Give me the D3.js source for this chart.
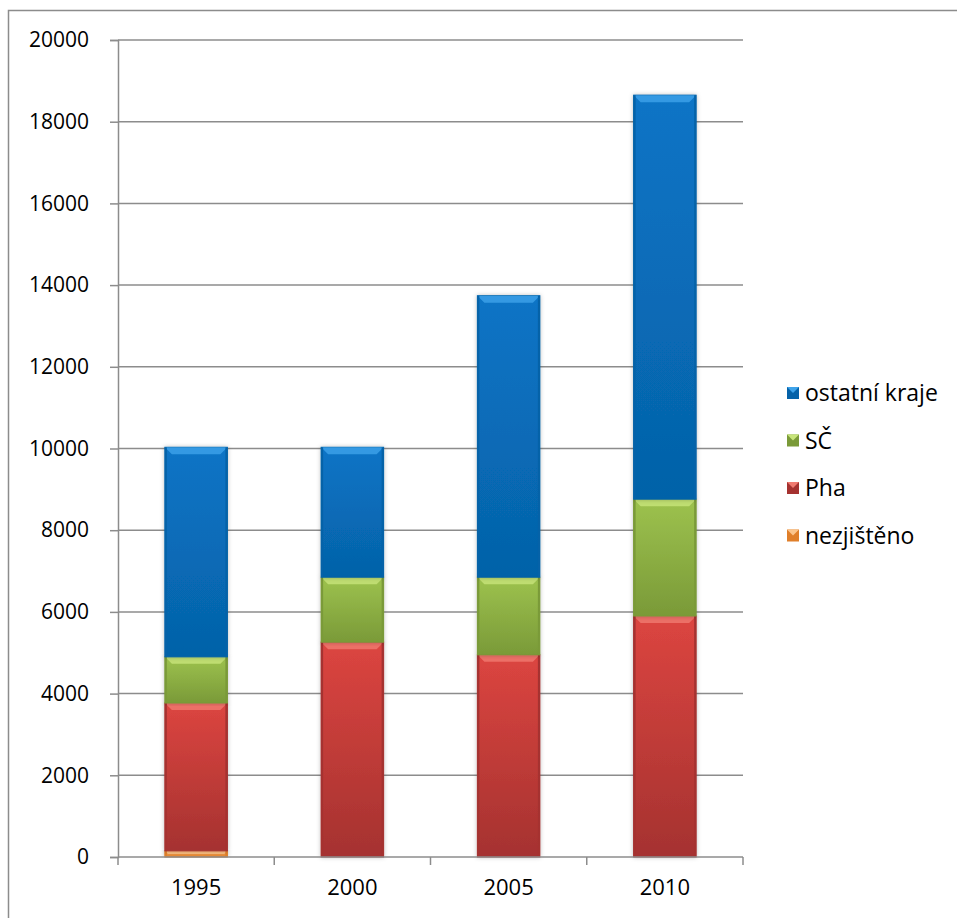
<!DOCTYPE html>
<html>
<head>
<meta charset="utf-8">
<script src="https://cdn.jsdelivr.net/npm/d3@7"></script>
<style>
  body { margin: 0; background: #fff; }
  text { font-family: "Open Sans", Lato, sans-serif; fill: #000; }
</style>
</head>
<body>
<div id="chart"></div>
<script>
var years = ["1995", "2000", "2005", "2010"];
var seriesNames = ["nezjištěno", "Pha", "SČ", "ostatní kraje"];
var nezjisteno = [150, 0, 0, 0];
var pha = [3620, 5260, 4950, 5900];
var sc = [1130, 1590, 1900, 2860];
var ostatni = [5130, 3180, 6890, 9890];
var yTicks = [0, 2000, 4000, 6000, 8000, 10000, 12000, 14000, 16000, 18000, 20000];

// colours: [top, bottom, bevel highlight]
var colors = {
    "nezjištěno": ["#f9a85a", "#e07f2a", "#fcc58c"],
    "Pha": ["#dc4540", "#a53230", "#f07a70"],
    "SČ": ["#9dc24e", "#7a9a38", "#c8e57a"],
    "ostatní kraje": ["#0a74c6", "#0562a8", "#3fa3ea"]
};

var W = 957, H = 918;
var margin = {top: 40, right: 214, bottom: 61, left: 118};
var width = W - margin.left - margin.right;
var height = H - margin.top - margin.bottom;

var rows = years.map(function(y, i) {
    return {year: y, "nezjištěno": nezjisteno[i], "Pha": pha[i], "SČ": sc[i], "ostatní kraje": ostatni[i]};
});
var stacked = d3.stack().keys(seriesNames)(rows);

var svg = d3.select("#chart").append("svg")
    .attr("width", W)
    .attr("height", H);

// outer chart frame
svg.append("rect")
    .attr("x", 8.5).attr("y", 10.5)
    .attr("width", 1200).attr("height", 1200)
    .attr("fill", "none")
    .attr("stroke", "#8c8c8c")
    .attr("stroke-width", 1.5);

var defs = svg.append("defs");
seriesNames.forEach(function(k, i) {
    var g = defs.append("linearGradient")
        .attr("id", "grad" + i)
        .attr("x1", 0).attr("y1", 0).attr("x2", 0).attr("y2", 1);
    g.append("stop").attr("offset", "0%").attr("stop-color", colors[k][0]);
    g.append("stop").attr("offset", "100%").attr("stop-color", colors[k][1]);
});
var shadow = defs.append("filter").attr("id", "shadow")
    .attr("x", "-20%").attr("y", "-5%").attr("width", "140%").attr("height", "110%");
shadow.append("feDropShadow")
    .attr("dx", 0).attr("dy", 0).attr("stdDeviation", 2)
    .attr("flood-color", "#000").attr("flood-opacity", 0.25);

var x = d3.scaleBand()
    .domain(years)
    .range([0, width])
    .paddingInner(0.6)
    .paddingOuter(0.3);

var y = d3.scaleLinear()
    .domain([0, 20000])
    .range([height, 0]);

var g = svg.append("g")
    .attr("transform", "translate(" + margin.left + "," + margin.top + ")");

// gridlines
g.selectAll("line.grid")
    .data(yTicks.slice(1)).enter()
    .append("line")
        .attr("class", "grid")
        .attr("x1", 0).attr("x2", width)
        .attr("y1", function(d) { return y(d); })
        .attr("y2", function(d) { return y(d); })
        .attr("stroke", "#8c8c8c")
        .attr("stroke-width", 1.5);

var yAxis = g.append("g")
    .call(d3.axisLeft(y).tickValues(yTicks).tickSize(8).tickPadding(21).tickFormat(d3.format("d")));
yAxis.select(".domain").attr("stroke", "#8c8c8c").attr("stroke-width", 1.5);
yAxis.selectAll(".tick line").attr("stroke", "#8c8c8c").attr("stroke-width", 1.5);
yAxis.selectAll("text").style("font-size", "21px").attr("fill", "#000");

// bars with a little bevel
var layers = g.selectAll("g.layer")
    .data(stacked).enter()
    .append("g")
        .attr("class", "layer");

layers.each(function(layer, i) {
    var key = layer.key;
    var sel = d3.select(this).selectAll("g.seg")
        .data(layer.filter(function(d) { return d[1] - d[0] > 0; })).enter()
        .append("g").attr("class", "seg");

    sel.append("rect")
        .attr("x", function(d) { return x(d.data.year); })
        .attr("y", function(d) { return y(d[1]); })
        .attr("width", x.bandwidth())
        .attr("height", function(d) { return y(d[0]) - y(d[1]); })
        .attr("fill", "url(#grad" + i + ")")
        .attr("stroke", colors[key][1])
        .attr("stroke-width", 1)
        .attr("filter", "url(#shadow)");

    // top bevel highlight
    sel.append("path")
        .attr("d", function(d) {
            var x0 = x(d.data.year), x1 = x0 + x.bandwidth();
            var t = y(d[1]);
            var b = Math.min(7, (y(d[0]) - t) / 2);
            return "M" + x0 + "," + t + "L" + x1 + "," + t +
                "L" + (x1 - b) + "," + (t + b) + "L" + (x0 + b) + "," + (t + b) + "Z";
        })
        .attr("fill", colors[key][2])
        .attr("opacity", 0.8);

    // darker side edges
    sel.append("rect")
        .attr("x", function(d) { return x(d.data.year); })
        .attr("y", function(d) { return y(d[1]); })
        .attr("width", 2)
        .attr("height", function(d) { return y(d[0]) - y(d[1]); })
        .attr("fill", colors[key][1]);
    sel.append("rect")
        .attr("x", function(d) { return x(d.data.year) + x.bandwidth() - 2; })
        .attr("y", function(d) { return y(d[1]); })
        .attr("width", 2)
        .attr("height", function(d) { return y(d[0]) - y(d[1]); })
        .attr("fill", colors[key][1]);
});

// x axis with ticks between categories
var xAxis = g.append("g")
    .attr("transform", "translate(0," + height + ")");
xAxis.append("line")
    .attr("x1", 0).attr("x2", width)
    .attr("stroke", "#8c8c8c").attr("stroke-width", 1.5);
xAxis.selectAll("line.xt")
    .data(d3.range(years.length + 1)).enter()
    .append("line")
        .attr("class", "xt")
        .attr("x1", function(d) { return d * width / years.length; })
        .attr("x2", function(d) { return d * width / years.length; })
        .attr("y1", 0).attr("y2", 8)
        .attr("stroke", "#8c8c8c").attr("stroke-width", 1.5);
xAxis.selectAll("text")
    .data(years).enter()
    .append("text")
        .attr("x", function(d) { return x(d) + x.bandwidth() / 2; })
        .attr("y", 38)
        .attr("text-anchor", "middle")
        .style("font-size", "22px")
        .text(function(d) { return d; });

// legend, reversed order
var legend = svg.append("g")
    .attr("transform", "translate(787,387)");
var legendItems = seriesNames.slice().reverse();
var li = legend.selectAll("g")
    .data(legendItems).enter()
    .append("g")
        .attr("transform", function(d, i) { return "translate(0," + (i * 47.5) + ")"; });
li.append("rect")
    .attr("width", 12).attr("height", 12)
    .attr("fill", function(d) { return colors[d][1]; });
li.append("path")
    .attr("d", "M0,0L12,0L6,6Z")
    .attr("fill", function(d) { return colors[d][2]; });
li.append("text")
    .attr("x", 18)
    .attr("y", 14)
    .style("font-size", "23px")
    .text(function(d) { return d; });
</script>
</body>
</html>
